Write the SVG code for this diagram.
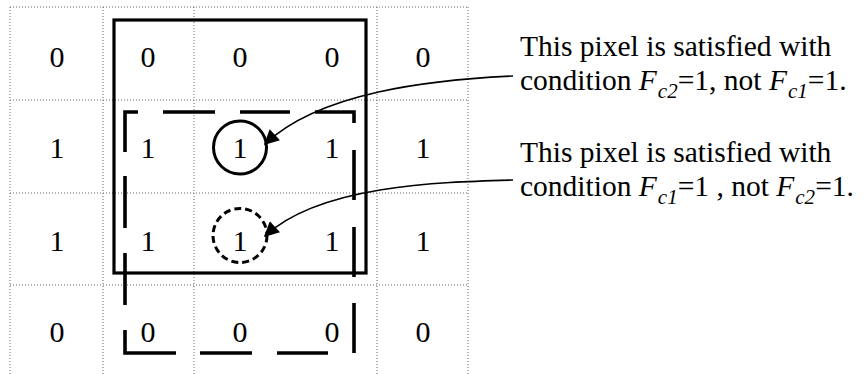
<svg xmlns="http://www.w3.org/2000/svg" width="867" height="374" viewBox="0 0 867 374">
<style>
.grid{stroke:#666;stroke-width:1;stroke-dasharray:1,2;fill:none}
.box{stroke:#000;stroke-width:3.2;fill:none}
.dash{stroke:#000;stroke-width:3.6;fill:none;stroke-linecap:butt}
.d{font-family:"Liberation Serif",serif;font-size:30px;fill:#000;text-anchor:middle}
.t{font-family:"Liberation Serif",serif;font-size:29.5px;fill:#000}
.i{font-style:italic}
.s{font-style:italic;font-size:21px}
.conn{stroke:#000;stroke-width:1.6;fill:none}
</style>
<defs>
<marker id="ah" viewBox="0 0 10 10" refX="9" refY="5" markerWidth="20" markerHeight="15" markerUnits="userSpaceOnUse" orient="auto">
<path d="M0,0 L10,5 L0,10 z" fill="#000"/>
</marker>
</defs>
<rect width="867" height="374" fill="#fff"/>
<g id="grid">
<path class="grid" d="M10,7 V374 M103,7 V374 M194,7 V374 M377,7 V374 M468,7 V374 M10,7 H468 M10,100 H468 M10,193 H468 M10,285 H468"/>
</g>
<g id="solid-box"><rect class="box" x="114" y="20" width="252" height="253"/></g>
<g id="dashed-box">
<path class="dash" d="M125,152 V112 H138 M163,112 H215 M240,112 H290 M315,112 H354 V123 M354,150 V200 M354,227 V277 M354,303 V353 M328,353 H277 M252,353 H200 M176,353 H125 V330 M125,305 V253 M125,228 V176"/>
</g>
<g id="cells">
<text class="d" x="57" y="67">0</text><text class="d" x="148" y="67">0</text><text class="d" x="240" y="67">0</text><text class="d" x="332" y="67">0</text><text class="d" x="423" y="67">0</text>
<text class="d" x="57" y="158">1</text><text class="d" x="148" y="158">1</text><text class="d" x="240" y="158">1</text><text class="d" x="332" y="158">1</text><text class="d" x="423" y="158">1</text>
<text class="d" x="57" y="251">1</text><text class="d" x="148" y="251">1</text><text class="d" x="240" y="251">1</text><text class="d" x="332" y="251">1</text><text class="d" x="423" y="251">1</text>
<text class="d" x="57" y="342">0</text><text class="d" x="148" y="342">0</text><text class="d" x="240" y="342">0</text><text class="d" x="332" y="342">0</text><text class="d" x="423" y="342">0</text>
</g>
<g id="circle-solid"><circle cx="240" cy="147.5" r="26.5" fill="none" stroke="#000" stroke-width="3"/></g>
<g id="circle-dashed"><circle cx="240" cy="235.5" r="27" fill="none" stroke="#000" stroke-width="3" stroke-dasharray="7,4"/></g>
<g id="label1">
<text class="t" x="520" y="56">This pixel is satisfied with</text>
<text class="t" x="520" y="90">condition <tspan class="i">F</tspan><tspan class="s" dx="1" dy="8">c2</tspan><tspan dy="-8">=1, not </tspan><tspan class="i">F</tspan><tspan class="s" dx="1" dy="8">c1</tspan><tspan dy="-8">=1.</tspan></text>
</g>
<g id="label2">
<text class="t" x="520" y="162">This pixel is satisfied with</text>
<text class="t" x="520" y="196">condition <tspan class="i">F</tspan><tspan class="s" dx="1" dy="8">c1</tspan><tspan dy="-8">=1 , not </tspan><tspan class="i">F</tspan><tspan class="s" dx="1" dy="8">c2</tspan><tspan dy="-8">=1.</tspan></text>
</g>
<g id="connectors">
<path class="conn" d="M513,76 C430,80 320,92 265,144" marker-end="url(#ah)"/>
<path class="conn" d="M513,180 C440,182 320,185 265,236" marker-end="url(#ah)"/>
</g>
</svg>
